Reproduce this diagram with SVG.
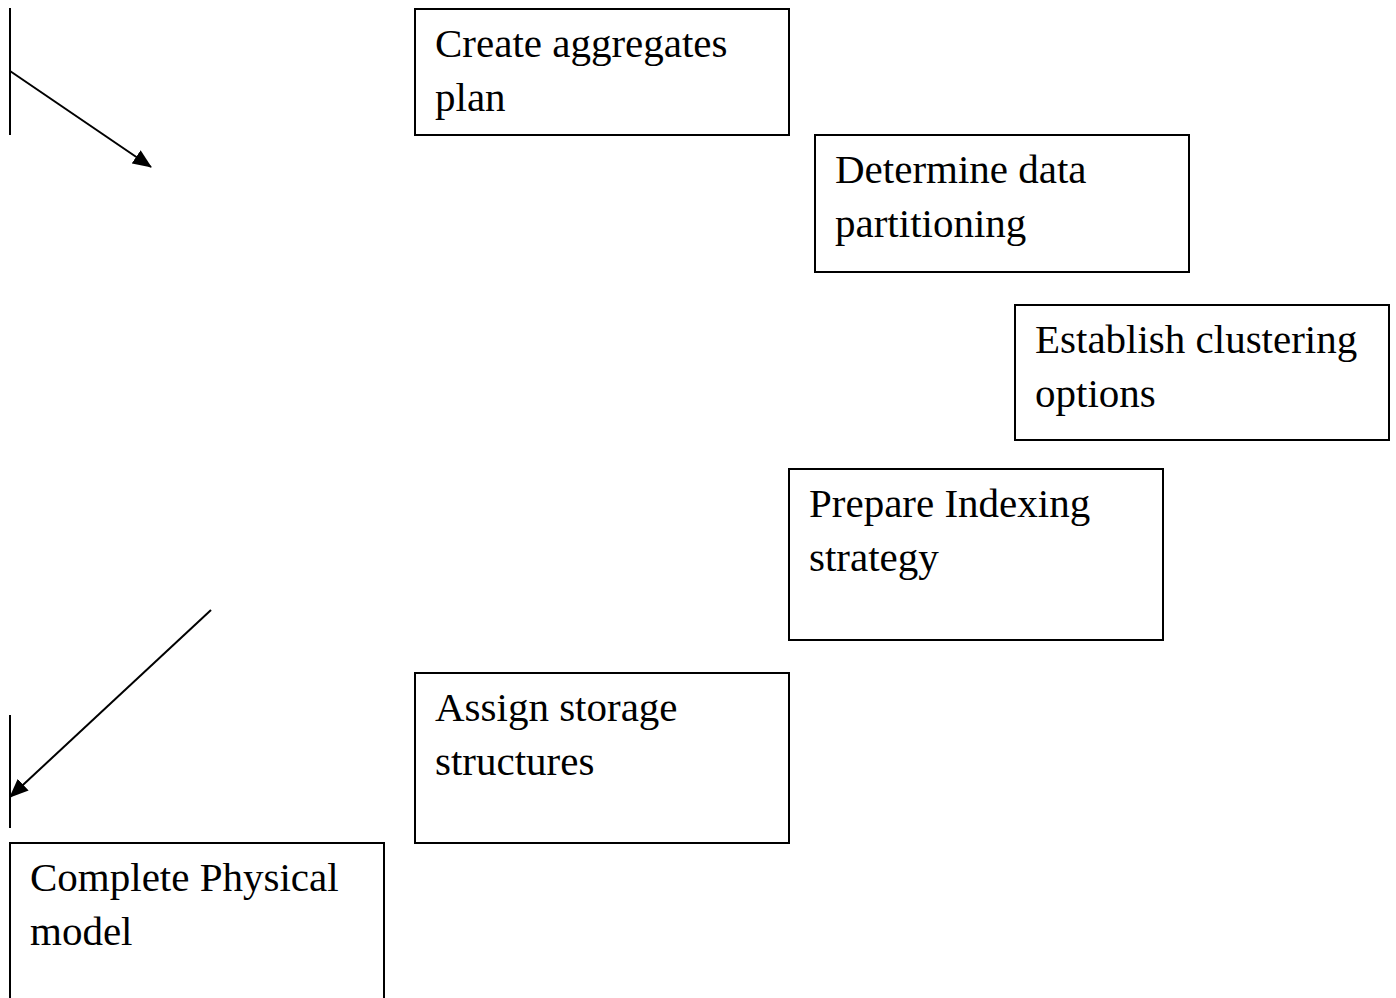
<svg xmlns="http://www.w3.org/2000/svg" width="1396" height="998" viewBox="0 0 1396 998">
  <defs>
    <marker id="arrow" markerUnits="userSpaceOnUse" markerWidth="19" markerHeight="16" viewBox="0 0 19 16" refX="18" refY="8" orient="auto">
      <path d="M0,0 L19,8 L0,16 Z" fill="#000"/>
    </marker>
  </defs>
  <style>
    .box { fill: #fff; stroke: #000; stroke-width: 2; }
    .label { font-family: "Liberation Serif", "Times New Roman", serif; font-size: 41px; fill: #000; }
    .conn { stroke: #000; stroke-width: 2; fill: none; }
  </style>
  <rect width="1396" height="998" fill="#fff"/>

  <g id="connectors">
    <line class="conn" x1="10" y1="8" x2="10" y2="135"/>
    <line class="conn" x1="10" y1="71" x2="151" y2="167" marker-end="url(#arrow)"/>
    <line class="conn" x1="10" y1="715" x2="10" y2="828"/>
    <line class="conn" x1="211" y1="610" x2="10" y2="797" marker-end="url(#arrow)"/>
  </g>

  <g id="node-aggregates">
    <rect class="box" x="415" y="9" width="374" height="126"/>
    <text class="label" x="435" y="57">Create aggregates</text>
    <text class="label" x="435" y="111">plan</text>
  </g>

  <g id="node-partitioning">
    <rect class="box" x="815" y="135" width="374" height="137"/>
    <text class="label" x="835" y="183">Determine data</text>
    <text class="label" x="835" y="237">partitioning</text>
  </g>

  <g id="node-clustering">
    <rect class="box" x="1015" y="305" width="374" height="135"/>
    <text class="label" x="1035" y="353">Establish clustering</text>
    <text class="label" x="1035" y="407">options</text>
  </g>

  <g id="node-indexing">
    <rect class="box" x="789" y="469" width="374" height="171"/>
    <text class="label" x="809" y="517">Prepare Indexing</text>
    <text class="label" x="809" y="571">strategy</text>
  </g>

  <g id="node-storage">
    <rect class="box" x="415" y="673" width="374" height="170"/>
    <text class="label" x="435" y="721">Assign storage</text>
    <text class="label" x="435" y="775">structures</text>
  </g>

  <g id="node-physical">
    <rect class="box" x="10" y="843" width="374" height="170"/>
    <text class="label" x="30" y="891">Complete Physical</text>
    <text class="label" x="30" y="945">model</text>
  </g>
</svg>
